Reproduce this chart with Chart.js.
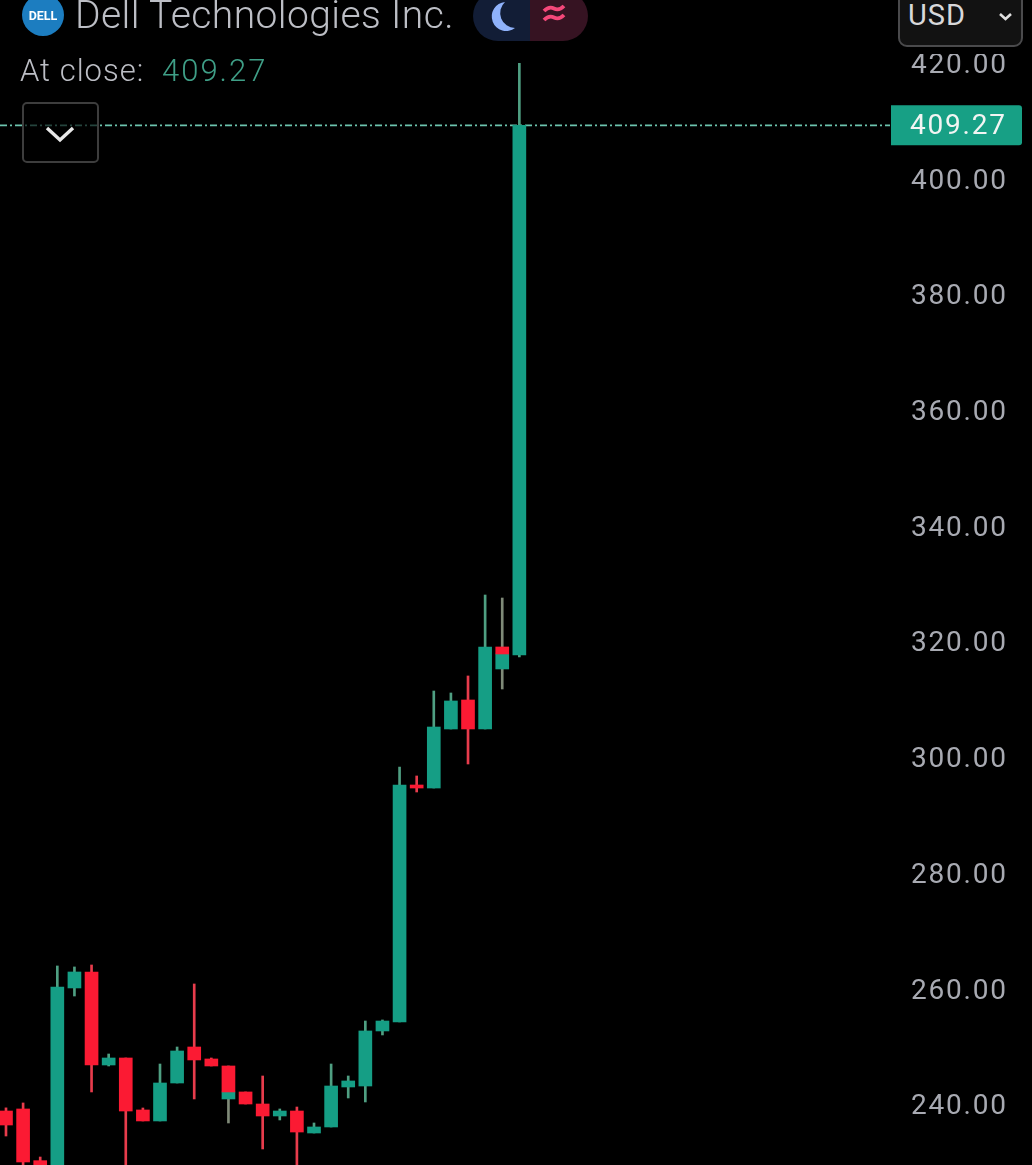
<!DOCTYPE html>
<html><head><meta charset="utf-8">
<script src="https://cdn.jsdelivr.net/npm/chart.js@4"></script>
<style>
html,body{margin:0;padding:0;background:#000;width:1032px;height:1165px;overflow:hidden}
#wrap{position:relative;width:1032px;height:1165px;font-family:Roboto,sans-serif}
canvas{position:absolute;left:0;top:0}
.t{position:absolute;white-space:nowrap}
</style></head><body>
<div id="wrap">
<canvas id="c" width="1032" height="1165"></canvas>
<div class="t" style="left:900px;top:44px;width:120px;height:10px;background:#000"></div>
<svg class="t" style="left:22px;top:-6px" width="43" height="43"><circle cx="21" cy="21" r="21" fill="#1c7dc0"/><text x="21" y="25.5" text-anchor="middle" fill="#fff" font-family="Roboto" font-weight="700" font-size="12.5">DELL</text></svg>
<div class="t" style="left:75px;top:-9px;font-size:39px;line-height:48px;font-weight:300;color:#bcbec5;letter-spacing:.4px">Dell Technologies Inc.</div>
<svg class="t" style="left:473px;top:-9px" width="115" height="50">
<path d="M25 0H57V50H25A25 25 0 0 1 25 0Z" fill="#121d36"/><path d="M57 0H90A25 25 0 0 1 90 50H57Z" fill="#361322"/>
<path d="M32 11A14.5 14.5 0 1 0 42 37A15 15 0 0 1 32 11Z" fill="#8fb2fb"/>
<path d="M71 20q5-5 10-2.5t10-2.5M71 29q5-5 10-2.5t10-2.5" fill="none" stroke="#f4487a" stroke-width="3.8"/>
</svg>
<div class="t" style="left:20px;top:53px;font-size:31px;line-height:36px;font-weight:300;color:#bcbec5;letter-spacing:1px">At close:</div>
<div class="t" style="left:162px;top:53px;font-size:31px;line-height:36px;font-weight:300;color:#3f9f87;letter-spacing:2px">409.27</div>
<div class="t" style="left:22px;top:102px;width:73px;height:57px;border:2px solid #3d3d3d;border-radius:5px;background:rgba(0,0,0,.65)">
<svg width="73" height="57"><path d="M23 24l13 12 13-12" fill="none" stroke="#e8e8e8" stroke-width="3.4"/></svg></div>
<div class="t" style="left:898px;top:-10px;width:121px;height:53px;border:2px solid #4a4a4c;border-radius:9px;background:#121212">
<span class="t" style="left:8px;top:3px;font-size:29px;line-height:40px;color:#d8d8da;letter-spacing:1px">USD</span>
<svg class="t" style="left:97px;top:18px" width="18" height="14"><path d="M3 4l5.5 5 5.5-5" fill="none" stroke="#e0e0e0" stroke-width="2.6"/></svg></div>
</div>
<script>
const closePrice = 409.27;
const tickValues = [240,260,280,300,320,340,360,380,400,420];
const candleIndex = [...Array(31).keys()];
const highs = [239.5,240.35,231.01,264.02,263.85,264.19,248.81,248.12,239.48,247.08,250.02,260.91,248.12,246.74,242.25,245.01,239.31,239.65,236.89,247.08,245.01,254.51,254.69,298.40,296.85,311.53,311.19,314.13,328.12,327.60,420.00];
const lows = [234.64,226,226,226,258.83,242.25,246.74,226,237.24,237.24,243.80,241.04,246.74,236.89,240.17,232.40,237.41,226,235.16,236.20,241.21,240.52,252.10,254.34,294.08,294.77,304.97,298.92,304.97,311.88,317.41];
const redTops = [238.96,239.31,230.38,null,null,262.98,null,248.12,239.14,null,null,250.02,247.95,246.74,242.25,240.17,null,238.96,null,null,null,null,null,null,295.29,null,null,309.98,null,319.14,null];
const redBottoms = [236.54,230.15,226,null,null,246.91,null,238.96,237.24,null,null,247.78,246.74,242.25,240.17,238.10,null,235.33,null,null,null,null,null,null,294.77,null,null,304.97,null,317.93,null];
const greenTops = [null,null,null,260.39,262.98,null,248.12,null,null,243.80,249.33,null,null,242.25,null,null,238.96,null,236.20,243.28,244.15,252.79,254.51,295.29,null,305.31,309.81,null,319.14,317.93,409.27];
const greenBottoms = [null,null,null,226,260.22,null,246.91,null,null,237.24,243.80,null,null,241.04,null,null,238.10,null,235.16,236.20,243.11,243.28,252.79,254.34,null,294.77,304.97,null,304.97,315.34,317.76];
const wickKinds = ['r','r','r','g','g','r','g','r','r','g','g','r','r','m','r','r','g','r','g','g','g','g','g','g','r','g','g','r','g','m','g'];

const GREEN='#159e85', RED='#fb1a33';
const wickColor={r:'#e83c4c',g:'#4f9f82',m:'#7f8a78'};
const xMin=-0.35,xMax=51.66;
const pick=(a,b)=>candleIndex.filter(i=>a[i]!==null).map(i=>({x:i,y:[b[i],a[i]]}));
const priceTag={id:'priceTag',
 beforeDraw(ch){ch.ctx.letterSpacing='1.8px';},
 afterDraw(ch){const c=ch.ctx,y=ch.scales.y.getPixelForValue(closePrice);
  c.save();c.fillStyle='#17a085';c.beginPath();c.roundRect(891,y-20,131,40,[0,3,3,0]);c.fill();
  c.fillStyle='#f2f5f3';c.font='28px Roboto';c.textBaseline='middle';c.textAlign='left';c.fillText(closePrice.toFixed(2),910,y+2);c.restore();}};
new Chart(document.getElementById('c'),{
 type:'bar',
 data:{datasets:[
  {type:'line',data:[{x:xMin,y:closePrice},{x:xMax,y:closePrice}],borderColor:'#6cc4ae',borderWidth:1.7,borderDash:[7,3,2,3],pointRadius:0,order:5},
  {label:'wick',data:candleIndex.map(i=>({x:i,y:[lows[i],highs[i]]})),backgroundColor:wickKinds.map(k=>wickColor[k]),barThickness:2,grouped:false,order:4},
  {label:'green',data:pick(greenTops,greenBottoms),backgroundColor:GREEN,barThickness:13,grouped:false,order:3},
  {label:'red',data:pick(redTops,redBottoms),backgroundColor:RED,barThickness:13,grouped:false,order:2}
 ]},
 options:{responsive:false,animation:false,
  layout:{padding:0},
  plugins:{legend:{display:false},tooltip:{enabled:false}},
  scales:{
   x:{type:'linear',min:xMin,max:xMax,offset:false,display:false,grid:{display:false}},
   y:{position:'right',min:229.63,max:430.93,
    grid:{display:false,drawTicks:false},border:{display:false},
    afterFit(s){s.width=142;s.paddingTop=0;s.paddingBottom=0;},
    afterBuildTicks(s){s.ticks=tickValues.map(v=>({value:v}));},
    ticks:{color:'#a8aab2',font:{family:'Roboto',size:28},padding:21,labelOffset:2.5,crossAlign:'near',callback:v=>Number(v).toFixed(2),autoSkip:false}
   }
  }
 },
 plugins:[priceTag]
});
</script>
</body></html>
